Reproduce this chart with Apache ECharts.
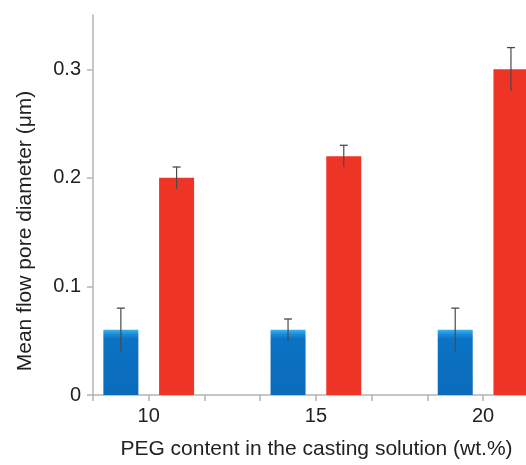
<!DOCTYPE html>
<html>
<head>
<meta charset="utf-8">
<script src="https://cdn.jsdelivr.net/npm/echarts@6/dist/echarts.min.js"></script>
<style>html,body{margin:0;padding:0;background:#fff;}#c{width:526px;height:465px;}</style>
</head>
<body>
<div id="c"></div>
<script>
const categories = ['10', '15', '20'];
const blueValues = [0.06, 0.06, 0.06];
const blueErrors = [0.02, 0.01, 0.02];
const redValues = [0.20, 0.22, 0.30];
const redErrors = [0.01, 0.01, 0.02];
const yTicks = [0, 0.1, 0.2, 0.3];

// each category occupies 3 slots on the x value axis: blue, red, gap
const catCenter = i => 1 + 3 * i;
const blueData = blueValues.map((v, i) => [catCenter(i) - 0.5, v]);
const redData = redValues.map((v, i) => [catCenter(i) + 0.5, v]);
const blueErr = blueValues.map((v, i) => [catCenter(i) - 0.5, v, blueErrors[i]]);
const redErr = redValues.map((v, i) => [catCenter(i) + 0.5, v, redErrors[i]]);
const xTickValues = [0, 1, 2, 3, 4, 5, 6, 7];
const xLabelValues = categories.map((c, i) => catCenter(i));

const font = '"Liberation Sans", Arial, Helvetica, sans-serif';
const chart = echarts.init(document.getElementById('c'), null, {renderer: 'canvas'});

function errItem(params, api) {
  const x = api.value(0), v = api.value(1), e = api.value(2);
  const top = api.coord([x, v + e]);
  const bot = api.coord([x, v - e]);
  const cap = 4;
  return {
    type: 'group',
    children: [
      {type: 'line', shape: {x1: top[0], y1: top[1], x2: bot[0], y2: bot[1]}, style: {stroke: '#4a4a4a', lineWidth: 1.2}},
      {type: 'line', shape: {x1: top[0] - cap, y1: top[1], x2: top[0] + cap, y2: top[1]}, style: {stroke: '#4a4a4a', lineWidth: 1.3}}
    ]
  };
}

chart.setOption({
  animation: false,
  backgroundColor: '#fff',
  grid: {left: 93, right: 0, top: 15, bottom: 68, containLabel: false},
  xAxis: {
    type: 'value', min: 0, max: 7.77, interval: 1,
    name: 'PEG content in the casting solution (wt.%)',
    nameLocation: 'middle', nameGap: 44,
    nameTextStyle: {fontFamily: font, fontSize: 21, color: '#222', padding: [0, 0, 0, 14]},
    splitLine: {show: false},
    axisLine: {show: true, onZero: false, lineStyle: {color: '#b4b4b4', width: 1.5}},
    axisTick: {show: true, length: 6, customValues: xTickValues, lineStyle: {color: '#b4b4b4', width: 1.5}},
    axisLabel: {
      customValues: xLabelValues, margin: 11,
      fontFamily: font, fontSize: 20, color: '#222',
      formatter: v => { const i = xLabelValues.indexOf(v); return i >= 0 ? categories[i] : ''; }
    }
  },
  yAxis: {
    type: 'value', min: 0, max: 0.35,
    name: 'Mean flow pore diameter (μm)',
    nameLocation: 'middle', nameGap: 57,
    nameTextStyle: {fontFamily: font, fontSize: 21, color: '#222', padding: [0, 52, 0, 0]},
    splitLine: {show: false},
    axisLine: {show: true, lineStyle: {color: '#b4b4b4', width: 1.5}},
    axisTick: {show: true, length: 6, customValues: yTicks, lineStyle: {color: '#b4b4b4', width: 1.5}},
    axisLabel: {
      customValues: yTicks, margin: 12,
      fontFamily: font, fontSize: 20, color: '#222',
      formatter: v => (v === 0 ? '0' : v.toFixed(1))
    }
  },
  series: [
    {
      name: 'blue', type: 'bar', data: blueData, barWidth: 35, barGap: '-100%',
      itemStyle: {
        color: new echarts.graphic.LinearGradient(0, 0, 0, 1, [
          {offset: 0, color: '#3ab2ee'},
          {offset: 0.07, color: '#1a8bd8'},
          {offset: 0.14, color: '#0c72c3'},
          {offset: 1, color: '#0a6bbb'}
        ])
      }
    },
    {
      name: 'red', type: 'bar', data: redData, barWidth: 35, barGap: '-100%',
      itemStyle: {color: '#ee3424'}
    },
    {type: 'custom', data: blueErr, renderItem: errItem, z: 5},
    {type: 'custom', data: redErr, renderItem: errItem, z: 5}
  ]
});
</script>
</body>
</html>
